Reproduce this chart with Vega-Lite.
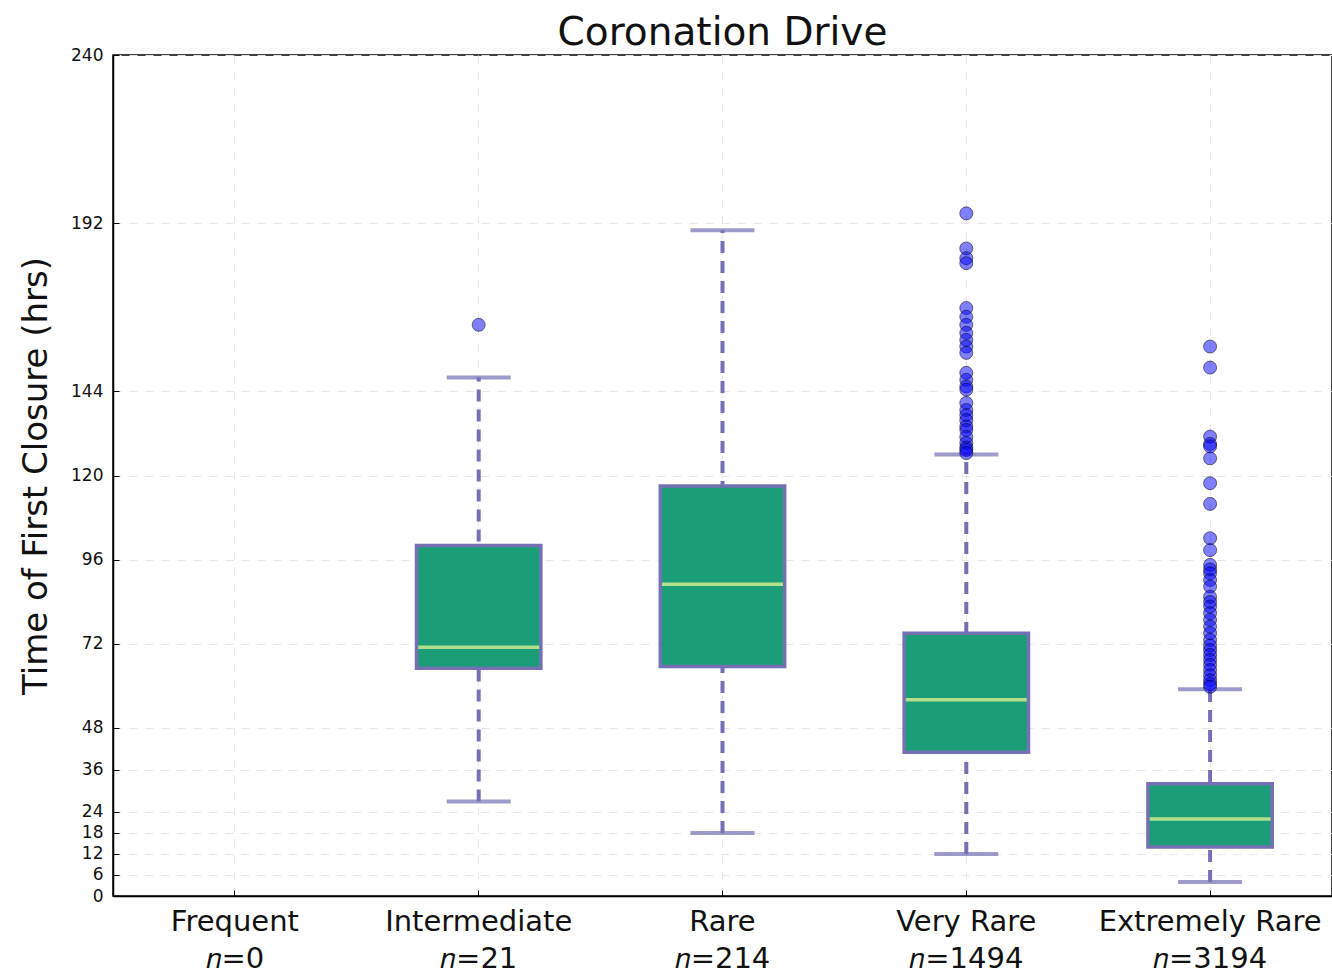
{
  "$schema": "https://vega.github.io/schema/vega-lite/v6.json",
  "width": 1219,
  "height": 841,
  "autosize": {"type": "none"},
  "padding": {"left": 113, "top": 55, "right": 0, "bottom": 81},
  "background": "white",
  "config": {
    "font": "DejaVu Sans",
    "view": {"stroke": "black", "strokeWidth": 1.5},
    "axis": {"domainColor": "black", "domainWidth": 1.5, "tickColor": "black", "labelColor": "#111", "titleColor": "#111"}
  },
  "title": {"text": "Coronation Drive", "fontSize": 39, "fontWeight": "normal", "font": "DejaVu Sans", "color": "#111", "offset": -7},
  "datasets": {
    "stats": [
      {"cat": "Intermediate", "lo": 27, "q1": 65, "med": 71, "q3": 100, "hi": 148},
      {"cat": "Rare", "lo": 18, "q1": 65.5, "med": 89, "q3": 117, "hi": 190},
      {"cat": "Very Rare", "lo": 12, "q1": 41, "med": 56, "q3": 75, "hi": 126},
      {"cat": "Extremely Rare", "lo": 4, "q1": 14, "med": 22, "q3": 32, "hi": 59}
    ],
    "outliers": [
      {"cat": "Intermediate", "v": 163},
      {"cat": "Very Rare", "v": 194.8},
      {"cat": "Very Rare", "v": 184.8},
      {"cat": "Very Rare", "v": 182.0},
      {"cat": "Very Rare", "v": 180.6},
      {"cat": "Very Rare", "v": 167.8},
      {"cat": "Very Rare", "v": 165.3},
      {"cat": "Very Rare", "v": 163.0},
      {"cat": "Very Rare", "v": 160.7},
      {"cat": "Very Rare", "v": 158.7},
      {"cat": "Very Rare", "v": 156.8},
      {"cat": "Very Rare", "v": 155.0},
      {"cat": "Very Rare", "v": 149.3},
      {"cat": "Very Rare", "v": 147.3},
      {"cat": "Very Rare", "v": 145.4},
      {"cat": "Very Rare", "v": 144.5},
      {"cat": "Very Rare", "v": 140.7},
      {"cat": "Very Rare", "v": 138.7},
      {"cat": "Very Rare", "v": 137.2},
      {"cat": "Very Rare", "v": 135.8},
      {"cat": "Very Rare", "v": 134.0},
      {"cat": "Very Rare", "v": 133.0},
      {"cat": "Very Rare", "v": 131.0},
      {"cat": "Very Rare", "v": 129.3},
      {"cat": "Very Rare", "v": 128.0},
      {"cat": "Very Rare", "v": 127.3},
      {"cat": "Very Rare", "v": 126.4},
      {"cat": "Extremely Rare", "v": 156.8},
      {"cat": "Extremely Rare", "v": 150.8},
      {"cat": "Extremely Rare", "v": 131.1},
      {"cat": "Extremely Rare", "v": 129.0},
      {"cat": "Extremely Rare", "v": 128.3},
      {"cat": "Extremely Rare", "v": 124.9},
      {"cat": "Extremely Rare", "v": 117.8},
      {"cat": "Extremely Rare", "v": 111.9},
      {"cat": "Extremely Rare", "v": 102.1},
      {"cat": "Extremely Rare", "v": 98.7},
      {"cat": "Extremely Rare", "v": 94.5},
      {"cat": "Extremely Rare", "v": 93.2},
      {"cat": "Extremely Rare", "v": 92.1},
      {"cat": "Extremely Rare", "v": 90.2},
      {"cat": "Extremely Rare", "v": 88.3},
      {"cat": "Extremely Rare", "v": 85.4},
      {"cat": "Extremely Rare", "v": 83.9},
      {"cat": "Extremely Rare", "v": 82.6},
      {"cat": "Extremely Rare", "v": 80.7},
      {"cat": "Extremely Rare", "v": 78.8},
      {"cat": "Extremely Rare", "v": 76.9},
      {"cat": "Extremely Rare", "v": 75.0},
      {"cat": "Extremely Rare", "v": 73.1},
      {"cat": "Extremely Rare", "v": 71.5},
      {"cat": "Extremely Rare", "v": 70.2},
      {"cat": "Extremely Rare", "v": 68.8},
      {"cat": "Extremely Rare", "v": 67.4},
      {"cat": "Extremely Rare", "v": 66.0},
      {"cat": "Extremely Rare", "v": 64.5},
      {"cat": "Extremely Rare", "v": 63.0},
      {"cat": "Extremely Rare", "v": 61.6},
      {"cat": "Extremely Rare", "v": 60.5},
      {"cat": "Extremely Rare", "v": 59.7}
    ]
  },
  "encoding": {
    "x": {
      "field": "cat", "type": "nominal",
      "scale": {"domain": ["Frequent", "Intermediate", "Rare", "Very Rare", "Extremely Rare"], "paddingInner": 0, "paddingOuter": 0},
      "axis": {
        "title": null, "labelAngle": 0, "labelFontSize": 29, "labelPadding": 17, "labelLineHeight": 37, "labelLimit": 400,
        "tickSize": -6, "tickWidth": 1, "bandPosition": 0.5,
        "grid": true, "gridColor": "#e6e6e6", "gridDash": [8, 8], "gridWidth": 1.2,
        "labelExpr": "[datum.label, datum.label == 'Frequent' ? '𝑛=0' : datum.label == 'Intermediate' ? '𝑛=21' : datum.label == 'Rare' ? '𝑛=214' : datum.label == 'Very Rare' ? '𝑛=1494' : '𝑛=3194']"
      }
    }
  },
  "layer": [
    {
      "data": {"name": "stats"},
      "mark": {"type": "rule", "stroke": "#7570b3", "strokeWidth": 4, "strokeDash": [12, 8]},
      "encoding": {
        "y": {"field": "lo", "type": "quantitative", "scale": {"domain": [0, 240], "nice": false},
          "axis": {"title": "Time of First Closure (hrs)", "titleFontSize": 34, "titleFontWeight": "normal", "titlePadding": 17,
            "values": [0, 6, 12, 18, 24, 36, 48, 72, 96, 120, 144, 192, 240],
            "labelFontSize": 17, "labelPadding": 16, "tickSize": -6, "tickWidth": 1,
            "grid": true, "gridColor": "#e6e6e6", "gridDash": [8, 8], "gridWidth": 1.2}},
        "y2": {"field": "hi"}
      }
    },
    {
      "data": {"name": "stats"},
      "mark": {"type": "tick", "color": "#7570b3", "size": 64, "thickness": 4, "orient": "horizontal"},
      "encoding": {"y": {"field": "lo", "type": "quantitative"}}
    },
    {
      "data": {"name": "stats"},
      "mark": {"type": "tick", "color": "#7570b3", "size": 64, "thickness": 4, "orient": "horizontal"},
      "encoding": {"y": {"field": "hi", "type": "quantitative"}}
    },
    {
      "data": {"name": "stats"},
      "mark": {"type": "bar", "fill": "#1b9e77", "stroke": "#7570b3", "strokeWidth": 3.5, "width": {"band": 0.51}},
      "encoding": {"y": {"field": "q1", "type": "quantitative"}, "y2": {"field": "q3"}}
    },
    {
      "data": {"name": "stats"},
      "mark": {"type": "tick", "color": "#b2df8a", "size": 121, "thickness": 3.5, "orient": "horizontal", "opacity": 1},
      "encoding": {"y": {"field": "med", "type": "quantitative"}}
    },
    {
      "data": {"name": "outliers"},
      "mark": {"type": "point", "shape": "circle", "filled": true, "fill": "#0000ff", "fillOpacity": 0.5, "stroke": "#000", "strokeOpacity": 0.5, "strokeWidth": 1, "size": 170, "opacity": 1},
      "encoding": {"y": {"field": "v", "type": "quantitative"}}
    }
  ]
}
